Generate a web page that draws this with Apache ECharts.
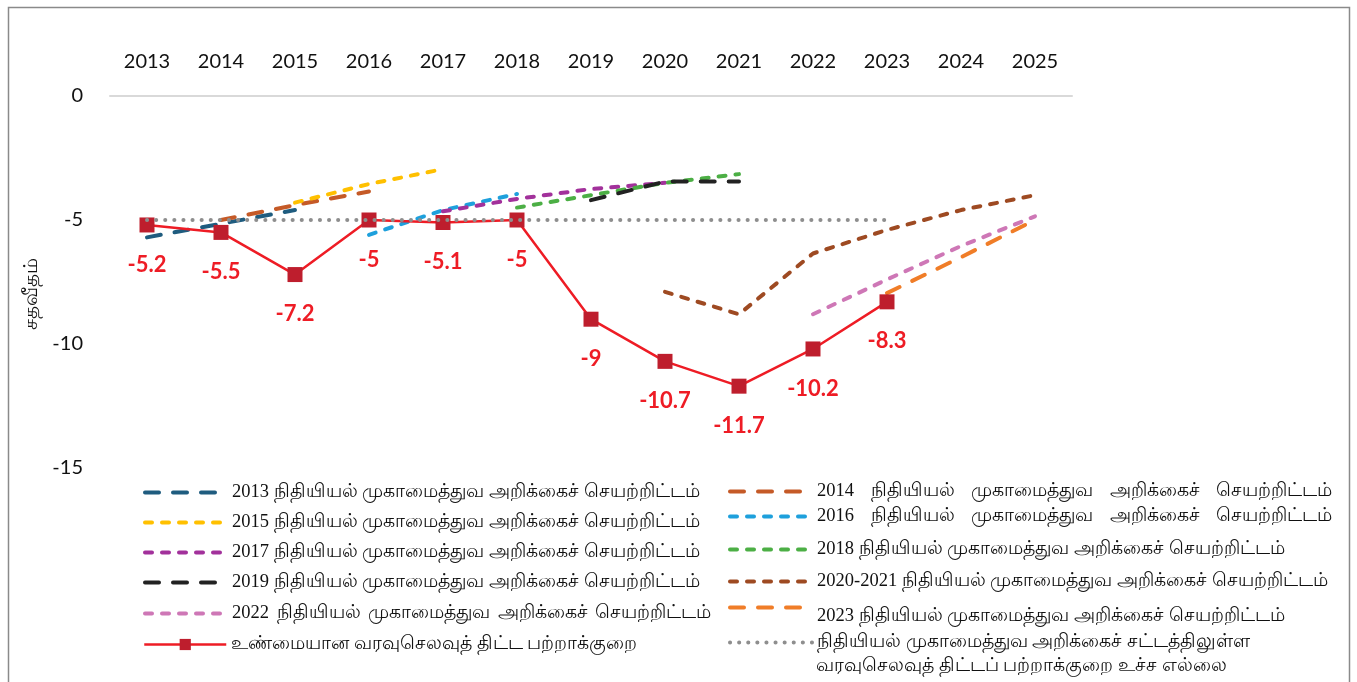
<!DOCTYPE html>
<html>
<head>
<meta charset="utf-8">
<script src="https://cdn.jsdelivr.net/npm/echarts@6/dist/echarts.min.js"></script>
<style>
html,body{margin:0;padding:0;background:#fff;}
#c{width:1357px;height:682px;}
</style>
</head>
<body>
<div id="c"></div>
<script>
var years = ['2013','2014','2015','2016','2017','2018','2019','2020','2021','2022','2023','2024','2025'];
var yTicks = [0, -5, -10, -15];
var p2013 = [-5.7, -5.15, -4.6, null, null, null, null, null, null, null, null, null, null];
var p2014 = [null, -5.0, -4.4, -3.85, null, null, null, null, null, null, null, null, null];
var p2015 = [null, null, -4.3, -3.55, -2.95, null, null, null, null, null, null, null, null];
var p2016 = [null, null, null, -5.6, -4.6, -3.95, null, null, null, null, null, null, null];
var p2017 = [null, null, null, null, -4.65, -4.15, -3.75, -3.5, null, null, null, null, null];
var p2018 = [null, null, null, null, null, -4.5, -4.0, -3.5, -3.15, null, null, null, null];
var p2019 = [null, null, null, null, null, null, -4.2, -3.45, -3.45, null, null, null, null];
var p2020_21 = [null, null, null, null, null, null, null, -7.9, -8.8, -6.35, -5.4, -4.6, -4.0];
var p2022 = [null, null, null, null, null, null, null, null, null, -8.8, -7.4, -6.05, -4.85];
var p2023 = [null, null, null, null, null, null, null, null, null, null, -7.95, -6.5, -5.0];
var actual = [-5.2, -5.5, -7.2, -5, -5.1, -5, -9, -10.7, -11.7, -10.2, -8.3, null, null];
var ceiling = [-5, -5, -5, -5, -5, -5, -5, -5, -5, -5, -5, null, null];

var sfx = ' நிதியியல் முகாமைத்துவ அறிக்கைச் செயற்றிட்டம்';
var names = {
  s2013: '2013' + sfx, s2014: '2014' + sfx, s2015: '2015' + sfx, s2016: '2016' + sfx,
  s2017: '2017' + sfx, s2018: '2018' + sfx, s2019: '2019' + sfx, s2020: '2020-2021' + sfx,
  s2022: '2022' + sfx, s2023: '2023' + sfx,
  actual: 'உண்மையான வரவுசெலவுத் திட்ட பற்றாக்குறை',
  ceil: 'நிதியியல் முகாமைத்துவ அறிக்கைச் சட்டத்திலுள்ள'
};
var ceilLine2 = 'வரவுசெலவுத் திட்டப் பற்றாக்குறை உச்ச எல்லை';

var LONG = [14, 14], SHORT = [7, 10];
function proj(name, data, color, dash) {
  return {
    name: name, type: 'line', data: data, symbol: 'none', smooth: false,
    lineStyle: { color: color, width: 4, type: dash, cap: 'round' },
    itemStyle: { color: color }, z: 2
  };
}
var series = [
  proj(names.s2013, p2013, '#1F5C7F', LONG),
  proj(names.s2014, p2014, '#C55A27', LONG),
  proj(names.s2015, p2015, '#FFC000', SHORT),
  proj(names.s2016, p2016, '#1EA0DC', SHORT),
  proj(names.s2017, p2017, '#A2319B', SHORT),
  proj(names.s2018, p2018, '#4CAF45', SHORT),
  proj(names.s2019, p2019, '#222222', LONG),
  proj(names.s2020, p2020_21, '#9E4A22', SHORT),
  proj(names.s2022, p2022, '#CE77B6', SHORT),
  proj(names.s2023, p2023, '#F07D28', LONG),
  {
    name: names.actual, type: 'line', data: actual, symbol: 'rect', symbolSize: 15,
    lineStyle: { color: '#EE1C25', width: 2.5 },
    itemStyle: { color: '#BE1E2D' },
    label: { show: true, position: 'bottom', distance: 21, color: '#EE1C25',
      fontSize: 22, fontWeight: 'bold', fontFamily: 'Lato' },
    z: 3
  },
  {
    name: names.ceil, type: 'line', data: ceiling, symbol: 'none',
    lineStyle: { color: '#8E8E8E', width: 4, type: [0.1, 9], cap: 'round' },
    itemStyle: { color: '#8E8E8E' }, z: 4
  }
];

function leg(name, left, cy, opts) {
  opts = opts || {};
  var FS = opts.fs || 18.5;
  var l = { data: [name], left: left, top: cy - 7, padding: 0, itemWidth: 82, itemHeight: 14,
    itemGap: 6, selectedMode: false,
    textStyle: { fontFamily: 'Liberation Serif', fontSize: FS, color: '#111' },
    lineStyle: { width: opts.lw || 4 } };
  if (!opts.keepSymbol) l.itemStyle = { color: 'rgba(0,0,0,0)', borderColor: 'rgba(0,0,0,0)', borderWidth: 0 };
  var extra = opts.gap || 0, shift = opts.shift || 0;
  if (extra || shift) {
    l.textStyle.rich = {
      g: { width: 4.6 + extra, fontSize: FS, fontFamily: 'Liberation Serif' },
      t: { padding: [shift, 0, 0, 0], fontSize: FS, fontFamily: 'Liberation Serif', color: '#111' }
    };
    l.formatter = function (n) {
      var parts = n.split(' ');
      if (extra) return parts.join('{g| }');
      return '{t|' + n + '}';
    };
  }
  return l;
}
var legends = [
  leg(names.s2013, 143, 490), leg(names.s2015, 143, 520),
  leg(names.s2017, 143, 550), leg(names.s2019, 143, 580),
  leg(names.s2022, 143, 611, { gap: 3 }),
  leg(names.actual, 143, 642, { keepSymbol: true, lw: 2.5 }),
  leg(names.s2014, 728, 489, { gap: 12 }), leg(names.s2016, 728, 514, { gap: 12 }),
  leg(names.s2018, 728, 547), leg(names.s2020, 728, 579),
  leg(names.s2023, 728, 609, { shift: 18 }),
  leg(names.ceil, 728, 640)
];

var chart = echarts.init(document.getElementById('c'), null, { renderer: 'canvas' });
chart.setOption({
  animation: false,
  backgroundColor: '#fff',
  grid: { left: 110, right: 285, top: 96, bottom: 214, containLabel: false },
  legend: legends,
  xAxis: {
    type: 'category', data: years, position: 'top', boundaryGap: true,
    axisLine: { show: true, lineStyle: { color: '#D9D9D9', width: 2 } },
    axisTick: { show: false },
    axisLabel: { margin: 24, fontSize: 20, color: '#111', fontFamily: 'Lato' },
    splitLine: { show: false }
  },
  yAxis: {
    type: 'value', min: -15, max: 0, interval: 5,
    name: 'சதவீதம்', nameLocation: 'middle', nameGap: 56, nameRotate: 90,
    nameTextStyle: { fontSize: 20, color: '#111', padding: [0, 0, 0, -24] },
    axisLine: { show: false }, axisTick: { show: false }, splitLine: { show: false },
    axisLabel: { margin: 27, fontSize: 20, color: '#111', fontFamily: 'Lato',
      formatter: function (v) { return yTicks.indexOf(v) >= 0 ? String(v) : ''; } }
  },
  graphic: [
    { type: 'rect', shape: { x: 8.5, y: 7.5, width: 1341, height: 700 },
      style: { fill: 'none', stroke: '#8A8A8A', lineWidth: 1.5 }, silent: true },
    { type: 'text', left: 816, top: 657, style: { text: ceilLine2, font: '18.5px "Liberation Serif"', fill: '#111' } }
  ],
  series: series
});
</script>
</body>
</html>
